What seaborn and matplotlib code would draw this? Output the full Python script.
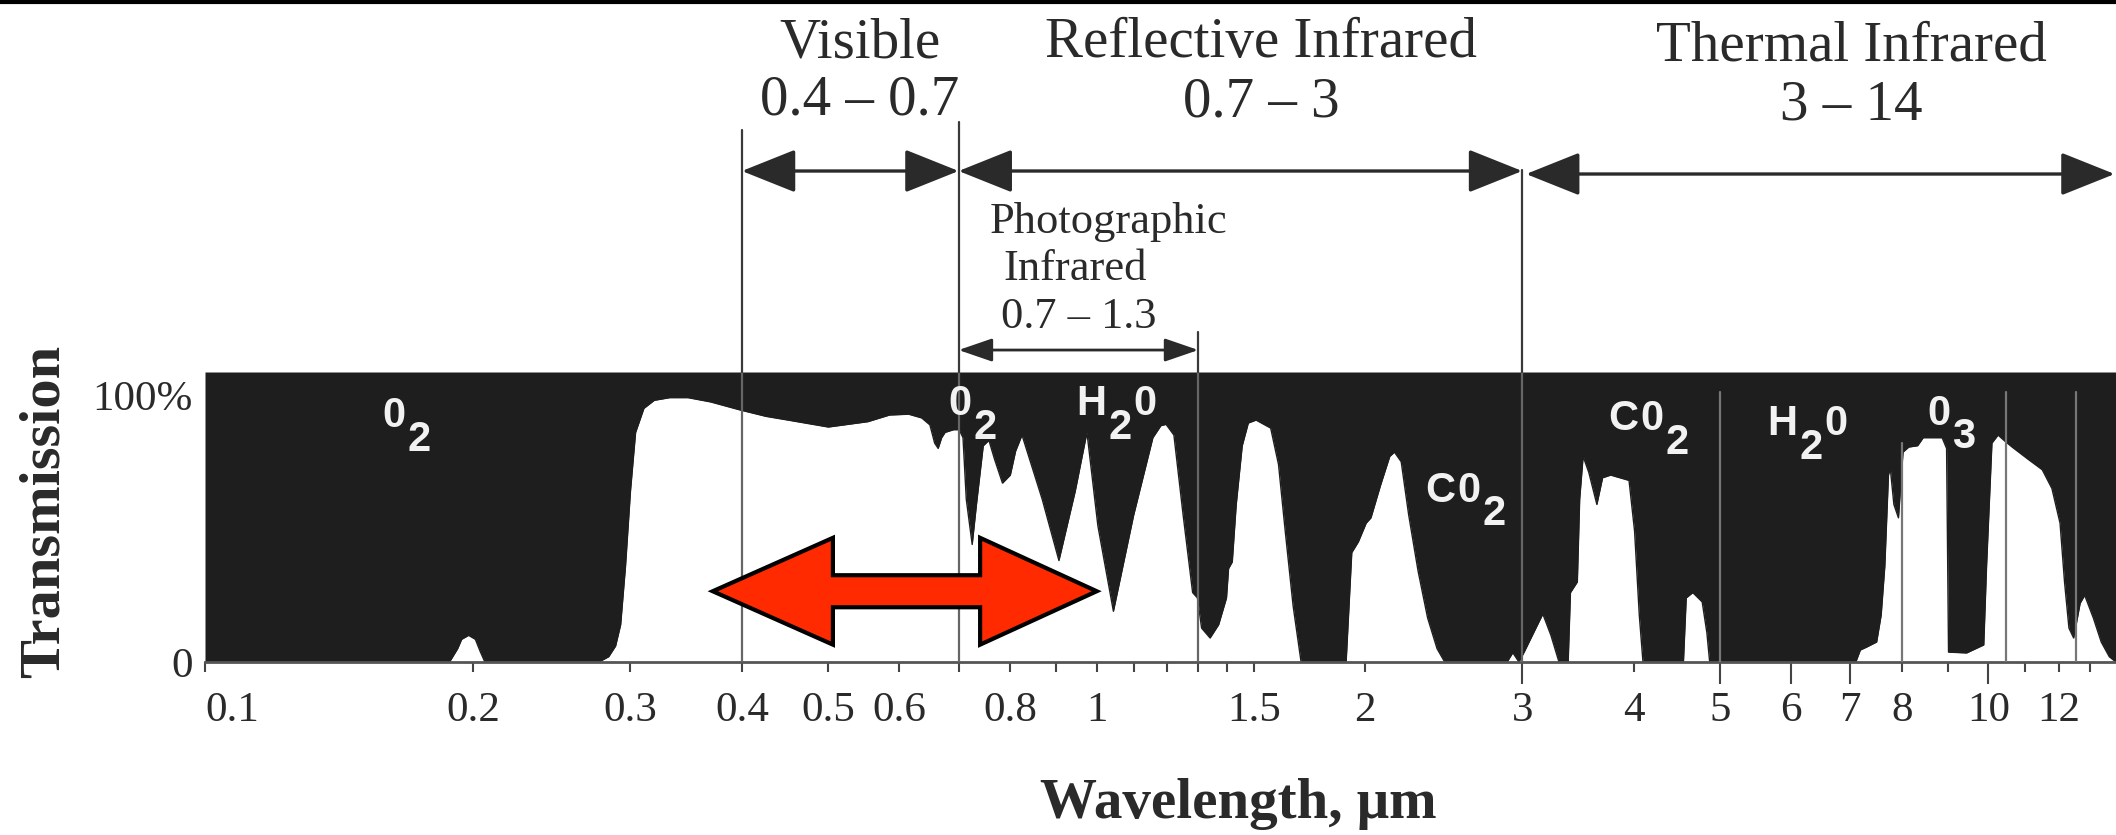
import matplotlib
matplotlib.use("Agg")
import matplotlib.pyplot as plt
import matplotlib.transforms as mtransforms
from matplotlib.lines import Line2D
from matplotlib.patches import FancyArrowPatch, Polygon
from matplotlib.font_manager import FontProperties, fontManager
from matplotlib.textpath import text_to_path
import pandas as pd
import seaborn as sns

# ---------------------------------------------------------------------------
# Atmospheric transmission (%) versus wavelength (micrometres)
# ---------------------------------------------------------------------------
wavelength = [
    0.100, 0.188, 0.192, 0.194, 0.1975, 0.201, 0.2035, 0.206,
    0.2765, 0.2836, 0.2887, 0.2925, 0.2962, 0.300, 0.304, 0.3106, 0.319, 0.332,
    0.348, 0.369, 0.398, 0.4256, 0.4506, 0.500, 0.5537, 0.5856, 0.6154, 0.6364,
    0.650, 0.658, 0.664, 0.670, 0.676, 0.691, 0.701,
    0.708, 0.714, 0.725, 0.733, 0.746, 0.757, 0.768, 0.784, 0.800, 0.811,
    0.8245, 0.8686, 0.907, 0.946, 0.975, 1.003, 1.044, 1.100, 1.156, 1.180,
    1.196, 1.2205, 1.250, 1.281, 1.297, 1.311, 1.340, 1.370, 1.398, 1.4055,
    1.419, 1.4336, 1.456, 1.479, 1.509, 1.567, 1.599, 1.627, 1.6605, 1.695,
    1.904, 1.932, 1.965, 2.005, 2.030, 2.080, 2.131, 2.157, 2.195, 2.238,
    2.293, 2.350, 2.408, 2.456,
    2.885, 2.928, 2.975, 3.018, 3.090, 3.164, 3.231, 3.299, 3.378, 3.398,
    3.459, 3.480, 3.511, 3.563, 3.638, 3.692, 3.770, 3.860, 3.953, 4.010,
    4.059, 4.098,
    4.549, 4.582, 4.660, 4.775, 4.833, 4.868,
    7.099, 7.183, 7.301, 7.492, 7.580, 7.652, 7.724, 7.760, 7.833, 7.926,
    8.020, 8.139, 8.328, 8.449, 8.872, 8.975, 9.020, 9.452, 9.879, 9.951,
    10.09, 10.25, 10.41, 10.63, 11.07, 11.49, 11.78, 12.03, 12.17, 12.31,
    12.46, 12.67, 12.82, 13.11, 13.38, 13.66, 13.90,
]
transmission = [
    0, 0, 5, 8.5, 10, 8.5, 4, 0,
    0, 2, 6, 14, 36, 64, 86, 95, 98, 99,
    99, 97.4, 94.4, 92, 90.6, 88, 90, 92.5, 92.8, 91.4,
    88.8, 82, 80, 84, 86, 87, 87,
    84, 61, 44, 59, 81, 83, 76, 67, 70, 79,
    85, 61, 38, 64, 86, 51, 19, 55, 84, 88.5,
    89, 85, 55, 26, 24, 12.7, 9, 14, 24, 35,
    37.5, 59, 81, 89.5, 90.6, 87.6, 74, 49, 21, 0,
    0, 41, 45, 52, 54, 66, 77, 78.6, 75, 55,
    34, 16.5, 5, 0,
    0, 3.5, 0, 4, 11, 18, 10, 0, 0, 26,
    30, 61, 77, 71, 59, 69, 70, 69, 68, 49,
    17.6, 0,
    0, 24, 26, 22.5, 11, 0,
    0, 4.5, 5.6, 7.5, 17.6, 36, 70, 72.7, 59, 54,
    78.6, 80.5, 81, 84, 84, 80, 3.7, 3.4, 6.4, 36,
    82, 85, 83, 80.5, 76, 72, 65, 52, 30, 12.7,
    9, 22, 25, 16.5, 7.5, 2, 0,
]

# Axis ticks
tick_values = [0.1, 0.2, 0.3, 0.4, 0.5, 0.6, 0.8, 1, 1.5, 2, 3, 4, 5, 6, 7, 8, 10, 12]
tick_labels = ["0.1", "0.2", "0.3", "0.4", "0.5", "0.6", "0.8", "1", "1.5", "2",
               "3", "4", "5", "6", "7", "8", "10", "12"]
minor_tick_values = [0.7, 0.9, 1.1, 1.2, 1.3, 1.4, 9, 11, 13]
long_tick_values = [3, 5, 6, 7, 10]

# Spectral regions shown above the plot
region_names = ["Visible", "Reflective Infrared", "Thermal Infrared"]
region_ranges = ["0.4 – 0.7", "0.7 – 3", "3 – 14"]
region_bounds = [(0.4, 0.7), (0.7, 3.0), (3.03, 13.85)]
region_text_x = [0.542, 1.53, 7.02]
photo_lines = ["Photographic", "Infrared", "0.7 – 1.3"]
photo_text_x = [0.759, 0.785, 0.781]
photo_bounds = (0.7, 1.3)

# Absorbing molecules ("_" marks a subscript character)
molecule_labels = ["0_2", "0_2", "H_20", "C0_2", "C0_2", "H_20", "0_3"]
molecule_x = [0.158, 0.681, 0.948, 2.335, 3.744, 5.645, 8.533]
molecule_y = [88.0, 92.5, 92.5, 60.0, 86.9, 85.0, 88.8]

# Boundary lines (above and inside the plot) and window lines (inside only)
boundary_lines = [0.4, 0.7, 1.3, 3.0]
boundary_tops = [0.8443, 0.8539, 0.6024, 0.7964]
window_lines = [5.0, 8.0, 10.47, 12.55]
window_tops = [101, 82, 101, 101]

# Highlight arrow over the visible / near-infrared window
highlight_span = (0.371, 1.0)
highlight_heads = (0.506, 0.740)
highlight_center, highlight_shaft, highlight_head = 26.5, 6.0, 20.0

# ---------------------------------------------------------------------------
sns.set_theme(style="white")
plt.rcParams["font.family"] = ["Liberation Serif", "DejaVu Serif"]
plt.rcParams["mathtext.default"] = "regular"

ink = "#1e1e1e"
text_color = "#2a2a2a"
guide_color = "#666666"
y_top = 108.6

fig = plt.figure(figsize=(21.16, 8.35), dpi=100)
ax = fig.add_axes([205 / 2116, 173 / 835, 1 - 205 / 2116, 290 / 835])
ax.set_xscale("log")
ax.set_xlim(0.1, 13.9)
ax.set_ylim(0, y_top)

df = pd.DataFrame({"wavelength": wavelength, "transmission": transmission})

# absorption (black) above the transmission curve
ax.fill_between(df["wavelength"], df["transmission"], y_top, color=ink, lw=0, zorder=1)
sns.lineplot(data=df, x="wavelength", y="transmission", estimator=None, sort=False,
             color=ink, lw=1.0, ax=ax, zorder=2)
ax.set_xlabel("")
ax.set_ylabel("")

# guide lines inside the plot
for xv in boundary_lines:
    ax.plot([xv, xv], [0, y_top], color=guide_color, lw=1.6, zorder=3)
for xv, top in zip(window_lines, window_tops):
    ax.plot([xv, xv], [0, top], color="#777777", lw=1.6, zorder=3)

# ticks
ax.set_xticks(tick_values, tick_labels)
ax.set_xticks(minor_tick_values, minor=True)
ax.xaxis.set_minor_formatter(plt.NullFormatter())
ax.tick_params(axis="x", which="both", bottom=True, direction="out", length=7,
               width=1.5, color="#444444", labelsize=31, labelcolor=text_color, pad=14)
for tick, val in zip(ax.xaxis.get_major_ticks(), tick_values):
    if val in long_tick_values:
        tick.tick1line.set_markersize(16)
ax.get_xticklabels()[0].set_horizontalalignment("left")
ax.set_yticks([0, 100], ["0", "100%"])
ax.tick_params(axis="y", length=0, labelsize=31, labelcolor=text_color, pad=9)

for side in ["top", "right", "left"]:
    ax.spines[side].set_visible(False)
ax.spines["bottom"].set_color("#555555")
ax.spines["bottom"].set_linewidth(2)

# molecule labels
mol_family = "Liberation Sans Narrow" if any(
    f.name == "Liberation Sans Narrow" for f in fontManager.ttflist) else "Liberation Sans"
mol_fp = FontProperties(family=mol_family, weight="bold",
                        size=33 if mol_family.endswith("Narrow") else 30)
sub_drop, glyph_gap = 17, 1.5


def draw_formula(x, y, label):
    dx = 0.0
    low = False
    for ch in label:
        if ch == "_":
            low = True
            continue
        ax.annotate(ch, (x, y), xytext=(dx, -sub_drop if low else 0),
                    textcoords="offset points", ha="left", va="baseline",
                    fontproperties=mol_fp, color="#f2f2f2", zorder=5)
        w, _, _ = text_to_path.get_text_width_height_descent(ch, mol_fp, ismath=False)
        dx += w + glyph_gap
        low = False


for lab, xv, yv in zip(molecule_labels, molecule_x, molecule_y):
    draw_formula(xv, yv, lab)

# red double-headed highlight arrow
x0, x1 = highlight_span
h0, h1 = highlight_heads
c, s, h = highlight_center, highlight_shaft, highlight_head
arrow_pts = [(x0, c), (h0, c + h), (h0, c + s), (h1, c + s), (h1, c + h), (x1, c),
             (h1, c - h), (h1, c - s), (h0, c - s), (h0, c - h)]
ax.add_patch(Polygon(arrow_pts, closed=True, facecolor="#ff2a00", edgecolor="black",
                     lw=3, joinstyle="miter", zorder=6))

# header: region names, ranges, arrows and boundary lines
blend = mtransforms.blended_transform_factory(ax.transData, fig.transFigure)
axes_top = (173 + 290) / 835
for xv, top in zip(boundary_lines, boundary_tops):
    fig.add_artist(Line2D([xv, xv], [axes_top, top], transform=blend,
                          color="#3a3a3a", lw=1.6))

for name, rng, xv, yn, yr in zip(region_names, region_ranges, region_text_x,
                                 [0.9317, 0.9317, 0.9281], [0.8623, 0.8599, 0.8563]):
    fig.text(xv, yn, name, transform=blend, ha="center", va="baseline",
             fontsize=41, color=text_color)
    fig.text(xv, yr, rng, transform=blend, ha="center", va="baseline",
             fontsize=41, color=text_color)

for (a, b), yv in zip(region_bounds, [0.7952, 0.7952, 0.7916]):
    fig.add_artist(FancyArrowPatch((a, yv), (b, yv), transform=blend,
                                   arrowstyle="<|-|>,head_length=1.7,head_width=0.68",
                                   mutation_scale=20, lw=2.4, color=text_color,
                                   shrinkA=0, shrinkB=0))

for line, xv, yv in zip(photo_lines, photo_text_x, [0.7210, 0.6647, 0.6072]):
    fig.text(xv, yv, line, transform=blend, ha="left", va="baseline",
             fontsize=32, color=text_color)
fig.add_artist(FancyArrowPatch((photo_bounds[0], 0.5808), (photo_bounds[1], 0.5808),
                               transform=blend,
                               arrowstyle="<|-|>,head_length=1.6,head_width=0.55",
                               mutation_scale=13, lw=2.0, color=text_color,
                               shrinkA=0, shrinkB=0))

# axis titles
fig.text(1.44, 0.0204, "Wavelength, μm", transform=blend, ha="center", va="baseline",
         fontsize=41, fontweight="bold", color=text_color)
fig.text(0.021, 0.388, "Transmission", rotation=90, ha="center", va="center",
         fontsize=42, fontweight="bold", color=text_color)

# thin border along the top edge
fig.add_artist(Line2D([0, 1], [0.998, 0.998], transform=fig.transFigure,
                      color="black", lw=3))

fig.savefig("out.png", dpi=100)
